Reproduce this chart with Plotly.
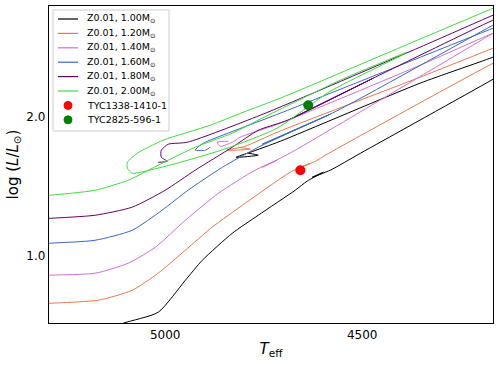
import plotly.graph_objects as go

# ---- data (Teff [K], log L/Lsun); None separates RGB part from post-RGB part ----
teff_100 = [5165, 5107, 5018, 4949, 4906, 4830, 4764, 4670, 4640, 4599, 4627, 4581, 4505, 4168, 3997,
            None,
            3997, 4168, 4353, 4708, 4784, 4820, 4764, 4789]
logl_100 = [0.446, 0.518, 0.597, 0.827, 0.971, 1.165, 1.295, 1.475, 1.540, 1.604, 1.568, 1.619, 1.740, 2.273, 2.554,
            None,
            2.626, 2.432, 2.245, 1.827, 1.748, 1.712, 1.727, 1.741]

teff_120 = [5343, 5292, 5170, 5084, 5018, 4949, 4881, 4797, 4683, 4632, 4662, 4619, 4589, 4168, 3997,
            None,
            3997, 4168, 4353, 4716, 4797, 4843, 4784, 4815]
logl_120 = [0.655, 0.662, 0.684, 0.755, 0.878, 1.043, 1.209, 1.381, 1.604, 1.669, 1.633, 1.683, 1.734, 2.388, 2.626,
            None,
            2.683, 2.496, 2.288, 1.892, 1.791, 1.763, 1.770, 1.784]

teff_140 = [5343, 5292, 5178, 5094, 5025, 4949, 4865, 4772, 4716, 4754, 4708, 4670, 4168, 4048,
            None,
            3997, 4168, 4353, 4708, 4810, 4830, 4860, 4868, 4840]
logl_140 = [0.856, 0.864, 0.878, 0.950, 1.065, 1.259, 1.453, 1.619, 1.691, 1.640, 1.705, 1.763, 2.604, 2.806,
            None,
            2.784, 2.604, 2.374, 1.957, 1.856, 1.820, 1.791, 1.820, 1.827]

teff_160 = [5343, 5292, 5178, 5084, 5008, 4942, 4855, 4764, 4581, 4754, 4576, 4168, 4048,
            None,
            3997, 4168, 4708, 4893, 4911, 4924, 4898, 4886]
logl_160 = [1.086, 1.094, 1.115, 1.187, 1.331, 1.475, 1.640, 1.784, 2.022, 1.806, 2.029, 2.662, 2.840,
            None,
            2.827, 2.640, 2.029, 1.827, 1.799, 1.763, 1.763, 1.784]

teff_180 = [5343, 5292, 5178, 5084, 5000, 4924, 4830, 4764, 4690, 4472, 4683, 4467, 4168, 4048,
            None,
            3997, 4168, 4353, 4759, 4944, 4992, 5010, 5010, 4995, 5018]
logl_180 = [1.266, 1.273, 1.295, 1.353, 1.475, 1.619, 1.784, 1.906, 1.978, 2.281, 1.985, 2.288, 2.698, 2.840,
            None,
            2.940, 2.734, 2.504, 2.014, 1.820, 1.806, 1.763, 1.712, 1.683, 1.676]

teff_200 = [5343, 5292, 5178, 5094, 5008, 4924, 4830, 4754, 4556, 4386,
            4404, 4581, 4716, 4843, 4970, 5063, 5084,
            5096, 5096, 5071, 5005, 4886, 4802, 4708, 4360, 4168, 4074]
logl_200 = [1.432, 1.439, 1.475, 1.547, 1.669, 1.784, 1.885, 1.993, 2.266, 2.468,
            2.439, 2.187, 1.921, 1.777, 1.669, 1.604, 1.597,
            1.633, 1.676, 1.741, 1.835, 1.942, 2.036, 2.137, 2.554, 2.784, 2.900]

track_names = ["Z0.01, 1.00M<sub>⊙</sub>", "Z0.01, 1.20M<sub>⊙</sub>", "Z0.01, 1.40M<sub>⊙</sub>",
               "Z0.01, 1.60M<sub>⊙</sub>", "Z0.01, 1.80M<sub>⊙</sub>", "Z0.01, 2.00M<sub>⊙</sub>"]
track_colors = ["black", "#e8784a", "#d070d0", "#3a66c4", "#660066", "#3ddc3d"]

star_names = ["TYC1338-1410-1", "TYC2825-596-1"]
star_teff = [4657, 4637]
star_logl = [1.619, 2.086]
star_colors = ["red", "green"]

tracks = [(teff_100, logl_100), (teff_120, logl_120), (teff_140, logl_140),
          (teff_160, logl_160), (teff_180, logl_180), (teff_200, logl_200)]

# plot-area geometry (pixels) used for the hand-made, compact legend
W, H = 500, 366
ML, MR, MT, MB = 49, 7, 6, 43
PW, PH = W - ML - MR, H - MT - MB


def px(x):
    return (x - ML) / PW


def py(y):
    return (H - MB - y) / PH


fig = go.Figure()
for (tx, ty), name, col in zip(tracks, track_names, track_colors):
    fig.add_trace(go.Scatter(x=tx, y=ty, mode="lines", name=name,
                             line=dict(color=col, width=1, shape="spline", smoothing=0.6),
                             connectgaps=False))
for n, tx, ty, c in zip(star_names, star_teff, star_logl, star_colors):
    fig.add_trace(go.Scatter(x=[tx], y=[ty], mode="markers", name=n,
                             marker=dict(color=c, size=10)))

# compact legend (matplotlib-like)
shapes = [dict(type="rect", xref="paper", yref="paper", x0=px(53), x1=px(169), y0=py(131), y1=py(10),
               line=dict(color="#cccccc", width=1), fillcolor="rgba(255,255,255,0.9)", layer="above")]
annotations = []
labels = track_names + star_names
for i, lab in enumerate(labels):
    yc = 19 + 14.4 * i
    if i < len(track_names):
        shapes.append(dict(type="line", xref="paper", yref="paper", x0=px(58), x1=px(78),
                           y0=py(yc), y1=py(yc), line=dict(color=track_colors[i], width=1.2), layer="above"))
    else:
        c = star_colors[i - len(track_names)]
        shapes.append(dict(type="circle", xref="paper", yref="paper", x0=px(64), x1=px(72),
                           y0=py(yc + 4), y1=py(yc - 4), line=dict(color=c, width=1), fillcolor=c, layer="above"))
    annotations.append(dict(xref="paper", yref="paper", x=px(85), y=py(yc), text=lab, showarrow=False,
                            xanchor="left", yanchor="middle", font=dict(size=9.5, color="black")))

axis_common = dict(showline=True, linecolor="black", linewidth=1.3, mirror=True,
                   ticks="", showgrid=False, zeroline=False, automargin=False,
                   tickfont=dict(size=12, color="black"))

fig.update_layout(
    width=W, height=H,
    margin=dict(l=ML, r=MR, t=MT, b=MB),
    paper_bgcolor="white", plot_bgcolor="white",
    font=dict(family="DejaVu Sans", color="black"),
    showlegend=False,
    shapes=shapes, annotations=annotations,
    xaxis=dict(range=[5295, 4168], tickvals=[5000, 4500], ticktext=["5000", "4500"],
               title=dict(text="<i>T</i><sub>eff</sub>", font=dict(size=15), standoff=2),
               **axis_common),
    yaxis=dict(range=[0.52, 2.80], tickvals=[1.0, 2.0], ticktext=["1.0", "2.0"],
               title=dict(text="log (<i>L</i>/<i>L</i><sub>⊙</sub>)", font=dict(size=15), standoff=4),
               **axis_common),
)

fig.write_html("out.html", config={"displayModeBar": False},
               post_script="document.body.style.margin='0';")
